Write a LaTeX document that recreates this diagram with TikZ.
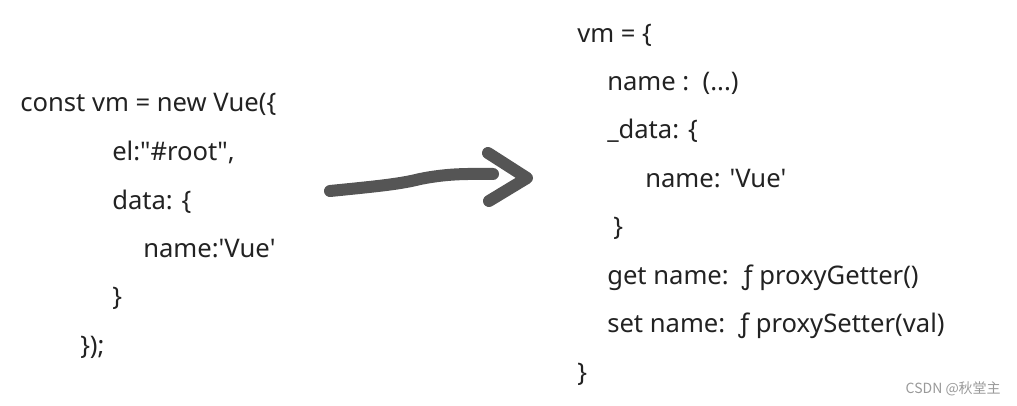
\documentclass[tikz,border=0pt]{standalone}
\usepackage{fontspec}
\setmainfont{Noto Sans}
\newfontfamily\cjk{Noto Sans CJK SC}
\usetikzlibrary{positioning}
\definecolor{codetext}{HTML}{222222}
\definecolor{strokegray}{HTML}{555555}
\definecolor{markgray}{HTML}{999999}

\newcommand{\sq}{\textquotesingle}
\newcommand{\dq}{\textquotedbl}

\tikzset{
	codeline/.style={anchor=mid west, inner sep=0pt, text=codetext, font=\fontsize{19.2}{21}\selectfont},
	handstroke/.style={draw=strokegray, line width=9pt, line cap=round, line join=round}
}

\begin{document}
\begin{tikzpicture}[x=0.75pt, y=-0.75pt]
	\useasboundingbox (0,0) rectangle (1017,406);

	\node (l1) [codeline] at (20,108) {const vm = new Vue(\{};
	\node (l2) [codeline] at (112,157) {el:\dq\#root\dq,};
	\node (l3) [codeline] at (112,206) {data: \{};
	\node (l4) [codeline] at (143,254) {name:\sq Vue\sq};
	\node (l5) [codeline] at (112,302) {\}};
	\node (l6) [codeline] at (80,351) {\});};

	\node (r1) [codeline] at (577,39) {vm = \{};
	\node (r2) [codeline] at (607,87) {name :~~(...)};
	\node (r3) [codeline] at (607,135) {\_data: \{};
	\node (r4) [codeline] at (645,184) {name: \sq Vue\sq};
	\node (r5) [codeline] at (613,232) {\}};
	\node (r6) [codeline] at (607,281) {get name:~~ƒ proxyGetter()};
	\node (r7) [codeline] at (607,329) {set name:~~ƒ proxySetter(val)};
	\node (r8) [codeline] at (577,378) {\}};

	\coordinate (tail) at (330,191);
	\coordinate (head) at (527,178);
	\draw [handstroke] (tail) .. controls (380,186) and (400,184) .. (420,179) .. controls (450,173) and (470,174) .. (493,174);
	\draw [handstroke] (488,153) -- (head) -- (489,201);

	\node (mark) [anchor=mid east, inner sep=0pt, text=markgray, font=\cjk\fontsize{10.5}{12}\selectfont] at (1001,390) {CSDN @秋堂主};
\end{tikzpicture}
\end{document}
